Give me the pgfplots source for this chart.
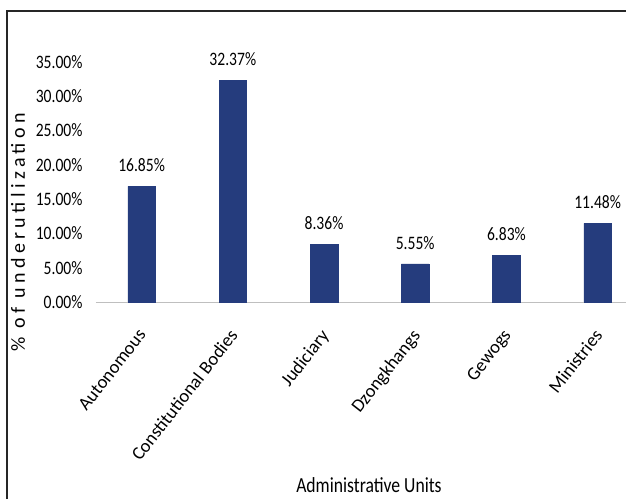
\documentclass[border=0pt]{standalone}
\usepackage{fontspec}
\usepackage{pgfplots}
\pgfplotsset{compat=1.18}
\setmainfont{Carlito}
\newfontfamily\narrow[FakeStretch=0.82]{Carlito}
\newfontfamily\spaced[LetterSpace=22]{Carlito}
\definecolor{barblue}{RGB}{37,60,125}
\definecolor{axisgrey}{RGB}{191,191,191}

\pgfplotstableread{
x val
0 16.85
1 32.37
2 8.36
3 5.55
4 6.83
5 11.48
}\underutil

\begin{document}
\begin{tikzpicture}
\useasboundingbox (0,0) rectangle (626pt,499pt);
\fill[white] (0,0) rectangle (626pt,499pt);
\draw[black!85, line width=1.4pt] (7pt,0) -- (7pt,488pt) -- (626pt,488pt);
\begin{axis}[
    at={(96pt,197pt)}, anchor=south west,
    scale only axis,
    width=530pt, height=240pt,
    xmin=-0.5, xmax=5.311,
    ymin=0, ymax=35,
    axis lines*=left,
    x axis line style={axisgrey, line width=1pt, -},
    y axis line style={draw=none},
    major tick length=0pt,
    xtick={0,1,2,3,4,5},
    xticklabels={Autonomous,Constitutional Bodies,Judiciary,Dzongkhangs,Gewogs,Ministries},
    xticklabel style={font=\fontsize{18.5}{18.5}\selectfont, xshift=-5pt, yshift=-21pt, rotate=52, anchor=north east},
    ytick={0,5,10,15,20,25,30,35},
    yticklabels={0.00\%,5.00\%,10.00\%,15.00\%,20.00\%,25.00\%,30.00\%,35.00\%},
    yticklabel style={font=\narrow\fontsize{19}{19}\selectfont, anchor=east, xshift=-10pt},
    xlabel={Administrative Units},
    xlabel style={font=\narrow\fontsize{21.5}{21.5}\selectfont, at={(axis description cs:0.515,0)}, anchor=center, yshift=-183pt},
    ylabel={\% of underutilization},
    ylabel style={font=\spaced\fontsize{20}{20}\selectfont, at={(axis description cs:-0.1472,0.29)}, anchor=center},
    clip=false,
    ybar,
    bar width=27.5pt,
    nodes near coords={\pgfmathprintnumber[fixed,fixed zerofill,precision=2,assume math mode=true]{\pgfplotspointmeta}\%},
    nodes near coords style={font=\narrow\fontsize{19}{19}\selectfont, anchor=south, yshift=11pt},
]
\addplot[fill=barblue, draw=barblue] table[x=x, y=val] {\underutil};
\end{axis}
\end{tikzpicture}
\end{document}
